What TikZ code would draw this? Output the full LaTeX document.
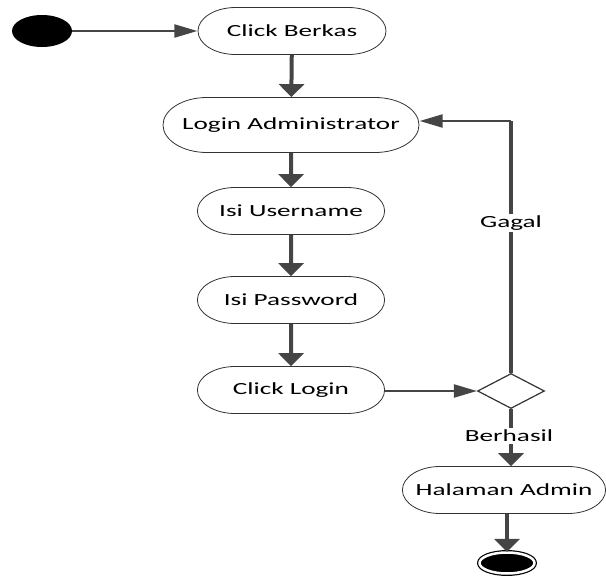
\documentclass[tikz,border=0pt]{standalone}
\usepackage{fontspec}
\setmainfont{Carlito}
\usepackage{xcolor}
\usepackage{tikz}
\usetikzlibrary{shapes}
\usetikzlibrary{arrows.meta}
\usetikzlibrary{positioning}
\definecolor{scuro}{rgb}{0.27,0.27,0.27}

\begin{document}
\begin{tikzpicture}[
  x=1pt, y=-1pt,
  font=\fontsize{17}{20}\selectfont
]
\tikzset{
    stirato/.style = {transform shape, xscale=1.6},
    actnode/.style = {stirato, rounded rectangle, draw=black!80, line width=0.8pt, fill=white,
                      minimum height=47pt, minimum width=117pt, inner sep=0pt, align=center},
    startnode/.style = {ellipse, fill=black, minimum width=60pt, minimum height=32pt, inner sep=0pt},
    endnode/.style = {ellipse, draw=black, line width=1.2pt, fill=black, double=white,
                      double distance=2.5pt, minimum width=55pt, minimum height=21pt, inner sep=0pt},
    decnode/.style = {diamond, draw=black!80, line width=1.2pt, fill=white, aspect=1.9,
                      minimum width=67pt, minimum height=35pt, inner sep=0pt},
    vflow/.style = {draw=scuro, line width=4pt, -{Triangle[length=13pt,width=25pt]}},
    hflow/.style = {draw=scuro, line width=2.2pt, -{Triangle[length=23pt,width=13pt]}},
    etichetta/.style = {stirato, fill=white, inner sep=2pt},
}
\useasboundingbox (0,0) rectangle (606,579);

% nodi
\node (S) [startnode] at (42,31) {};
\node (A) [actnode, minimum width=117.5pt] at (292,31) {Click Berkas};
\node (B) [actnode, minimum width=160pt, minimum height=55pt] at (291,125) {Login Administrator};
\node (C) [actnode] at (291,211) {Isi Username};
\node (D) [actnode] at (291,300) {Isi Password};
\node (E) [actnode] at (291,390) {Click Login};
\node (K) [decnode] at (511,391) {};
\node (H) [actnode, minimum width=127pt] at (504,490) {Halaman Admin};
\node (F) [endnode] at (507,563) {};
\coordinate (G) at (511,121);

% archi
\draw[hflow] (S) -- (A);
\draw[vflow] (A) -- (B);
\draw[vflow] (B) -- (C);
\draw[vflow] (C) -- (D);
\draw[vflow] (D) -- (E);
\draw[hflow] (E.east |- K) -- (K.west);
\draw[draw=scuro, line width=4pt] (K.north) -- (G);
\draw[hflow] (G) -- (B.east |- G);
\node[etichetta] (gagal) at (511,223) {Gagal};
\draw[vflow] (K.south) -- (K.south |- H.north);
\node[etichetta] (berhasil) at (509,436) {Berhasil};
\draw[vflow] (H.south -| F) -- (F);

\end{tikzpicture}
\end{document}
